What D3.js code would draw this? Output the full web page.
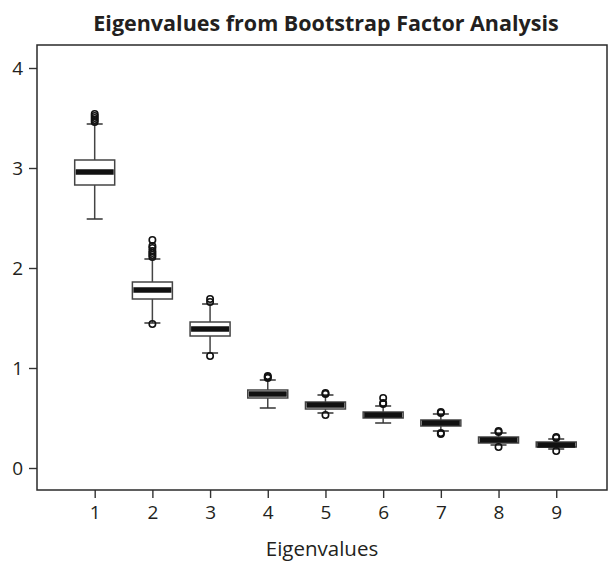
<!DOCTYPE html>
<html>
<head>
<meta charset="utf-8">
<script src="https://cdn.jsdelivr.net/npm/d3@7"></script>
<style>
  body { margin: 0; background: #fff; }
  svg text { font-family: "Open Sans", "Noto Sans", sans-serif; fill: #231f20; }
</style>
</head>
<body>
<div id="chart"></div>
<script>
// bootstrap eigenvalue summaries
const factors = [1, 2, 3, 4, 5, 6, 7, 8, 9];
const whiskerLow  = [2.49, 1.45, 1.15, 0.60, 0.55, 0.45, 0.37, 0.23, 0.19];
const q1          = [2.83, 1.69, 1.32, 0.70, 0.59, 0.50, 0.42, 0.25, 0.21];
const medians     = [2.96, 1.78, 1.39, 0.74, 0.63, 0.53, 0.45, 0.28, 0.23];
const q3          = [3.08, 1.86, 1.46, 0.78, 0.66, 0.56, 0.48, 0.31, 0.26];
const whiskerHigh = [3.44, 2.09, 1.64, 0.88, 0.73, 0.62, 0.54, 0.35, 0.29];
const outliers = [
    [3.46, 3.48, 3.50, 3.52, 3.54],
    [1.44, 2.11, 2.13, 2.15, 2.17, 2.20, 2.22, 2.28],
    [1.12, 1.66, 1.69],
    [0.90, 0.91, 0.92],
    [0.53, 0.74, 0.75],
    [0.64, 0.65, 0.70],
    [0.34, 0.35, 0.55, 0.56],
    [0.21, 0.36, 0.37],
    [0.17, 0.30, 0.31]
];
const yTicks = [0, 1, 2, 3, 4];

const width = 609, height = 563;
const plot = { left: 37, right: 607, top: 45, bottom: 490 };

const boxes = factors.map((f, i) => ({
    f, lo: whiskerLow[i], q1: q1[i], med: medians[i], q3: q3[i], hi: whiskerHigh[i],
    out: outliers[i]
}));

const x = d3.scaleLinear().domain([0, 9.88]).range([plot.left, plot.right]);
const y = d3.scaleLinear().domain([-0.22, 4.23]).range([plot.bottom, plot.top]);

const boxW = 40, capW = 16;

const svg = d3.select("#chart")
    .append("svg")
    .attr("width", width)
    .attr("height", height)
    .attr("viewBox", `0 0 ${width} ${height}`);

// title
svg.append("text")
    .attr("x", 326)
    .attr("y", 31)
    .attr("text-anchor", "middle")
    .style("font-size", "21.5px")
    .style("font-weight", "bold")
    .text("Eigenvalues from Bootstrap Factor Analysis");

// axes
svg.append("g")
    .attr("class", "y-axis")
    .attr("transform", `translate(${plot.left},0)`)
    .call(d3.axisLeft(y).tickValues(yTicks).tickSize(8).tickPadding(6).tickFormat(d3.format("d")));

svg.append("g")
    .attr("class", "x-axis")
    .attr("transform", `translate(0,${plot.bottom})`)
    .call(d3.axisBottom(x).tickValues(factors).tickSize(8).tickPadding(8).tickFormat(d3.format("d")));

svg.selectAll(".domain").remove();
svg.selectAll(".tick line").attr("stroke", "#333").attr("stroke-width", 1.4);
svg.selectAll(".tick text").style("font-size", "19px").attr("fill", "#231f20");

// frame
svg.append("rect")
    .attr("x", plot.left)
    .attr("y", plot.top)
    .attr("width", plot.right - plot.left)
    .attr("height", plot.bottom - plot.top)
    .attr("fill", "none")
    .attr("stroke", "#2a2a2a")
    .attr("stroke-width", 1.5);

svg.append("text")
    .attr("x", (plot.left + plot.right) / 2)
    .attr("y", 556)
    .attr("text-anchor", "middle")
    .style("font-size", "20.5px")
    .text("Eigenvalues");

// boxes
const g = svg.append("g").selectAll("g")
    .data(boxes)
    .join("g");

g.append("line")
    .attr("x1", d => x(d.f)).attr("x2", d => x(d.f))
    .attr("y1", d => y(d.hi)).attr("y2", d => y(d.lo))
    .attr("stroke", "#444").attr("stroke-width", 1.5);

g.selectAll(".cap")
    .data(d => [d.lo, d.hi].map(v => ({ f: d.f, v })))
    .join("line")
    .attr("class", "cap")
    .attr("x1", d => x(d.f) - capW / 2).attr("x2", d => x(d.f) + capW / 2)
    .attr("y1", d => y(d.v)).attr("y2", d => y(d.v))
    .attr("stroke", "#333").attr("stroke-width", 1.5);

g.append("rect")
    .attr("x", d => x(d.f) - boxW / 2)
    .attr("y", d => y(d.q3))
    .attr("width", boxW)
    .attr("height", d => y(d.q1) - y(d.q3))
    .attr("fill", "#fff")
    .attr("stroke", "#444")
    .attr("stroke-width", 1.5);

g.append("line")
    .attr("x1", d => x(d.f) - boxW / 2 + 1).attr("x2", d => x(d.f) + boxW / 2 - 1)
    .attr("y1", d => y(d.med)).attr("y2", d => y(d.med))
    .attr("stroke", "#111").attr("stroke-width", 5.5);

g.selectAll(".outlier")
    .data(d => d.out.map(v => ({ f: d.f, v })))
    .join("circle")
    .attr("class", "outlier")
    .attr("cx", d => x(d.f))
    .attr("cy", d => y(d.v))
    .attr("r", 3.2)
    .attr("fill", "none")
    .attr("stroke", "#111")
    .attr("stroke-width", 1.6);
</script>
</body>
</html>
